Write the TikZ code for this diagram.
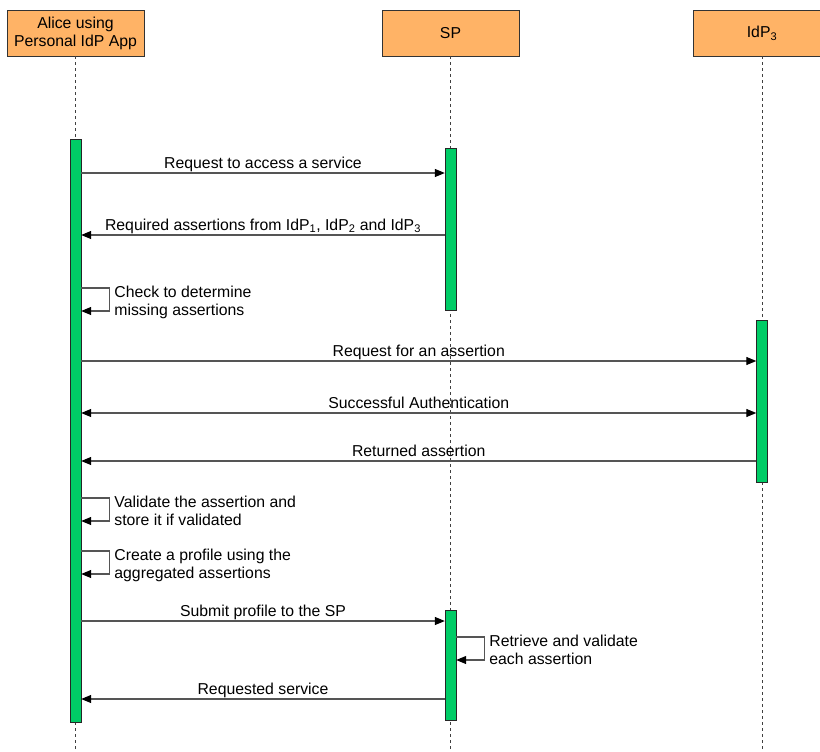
\documentclass[tikz,border=0pt]{standalone}
\usepackage{fontspec}
\setmainfont{Liberation Sans}
\usetikzlibrary{arrows.meta}
\definecolor{boxorange}{RGB}{255,179,102}
\definecolor{actgreen}{RGB}{0,204,102}
\definecolor{linegray}{RGB}{85,85,85}
\begin{document}
\begin{tikzpicture}[x=1pt, y=-1pt, font=\fontsize{15.8}{18}\selectfont,
  actor/.style={draw=black!80, fill=boxorange, minimum width=137pt, minimum height=46pt, align=center, inner sep=0pt},
  act/.style={draw=black!85, fill=actgreen, minimum width=11pt, inner sep=0pt},
  life/.style={draw=black!75, line width=0.9pt, dash pattern=on 3pt off 3pt},
  msg/.style={draw=linegray, line width=1.1pt, -{Triangle[length=10pt, width=8pt, color=black]}},
  note/.style={anchor=base west, align=left, inner sep=0pt}]

  \useasboundingbox (0,0) rectangle (820,752);

	%actors and lifelines
    \foreach \x/\name/\txt in {75.5/alice/{Alice using\\Personal IdP App}, 450.5/sp/SP, 762/idp/IdP\textsubscript{3}}{
         \node[actor] (\name) at (\x,33) {\txt};
         \coordinate (\name-end) at (\x,752);
         \draw[life] (\name.south) -- (\name-end);
    }

	%activations
    \foreach \name/\x/\y/\h in {aA/75.5/430.5/583, aS1/450.5/229/162, aI/762/401/162, aS2/450.5/665.5/110}{
         \node[act, minimum height=\h pt] (\name) at (\x,\y) {};
    }

	%messages
    \foreach \y/\from/\to/\txt in {173/aA.east/aS1.west/Request to access a service,
         235/aS1.west/aA.east/{Required assertions from IdP\textsubscript{1}, IdP\textsubscript{2} and IdP\textsubscript{3}},
         361/aA.east/aI.west/Request for an assertion,
         461/aI.west/aA.east/Returned assertion,
         621/aA.east/aS2.west/Submit profile to the SP,
         699/aS2.west/aA.east/Requested service}{
         \draw[msg] (\from |- 0,\y) -- (\to |- 0,\y) node[midway, anchor=base, yshift=5pt] {\txt};
    }
    \draw[msg, {Triangle[length=10pt, width=8pt, color=black]}-{Triangle[length=10pt, width=8pt, color=black]}]
         (aA.east |- 0,413) -- (aI.west |- 0,413) node[midway, anchor=base, yshift=5pt] {Successful Authentication};

	%self messages
    \foreach \name/\act/\y/\txt in {chk/aA/288/{Check to determine\\missing assertions},
         val/aA/498/{Validate the assertion and\\store it if validated},
         prof/aA/551/{Create a profile using the\\aggregated assertions},
         ret/aS2/637/{Retrieve and validate\\each assertion}}{
         \draw[msg] (\act.east |- 0,\y) -- ++(28,0) -- ++(0,23) -- (\act.east |- 0,\y+23);
         \node[note, xshift=33pt] (\name) at (\act.east |- 0,\y+27) {\txt};
    }

\end{tikzpicture}
\end{document}
